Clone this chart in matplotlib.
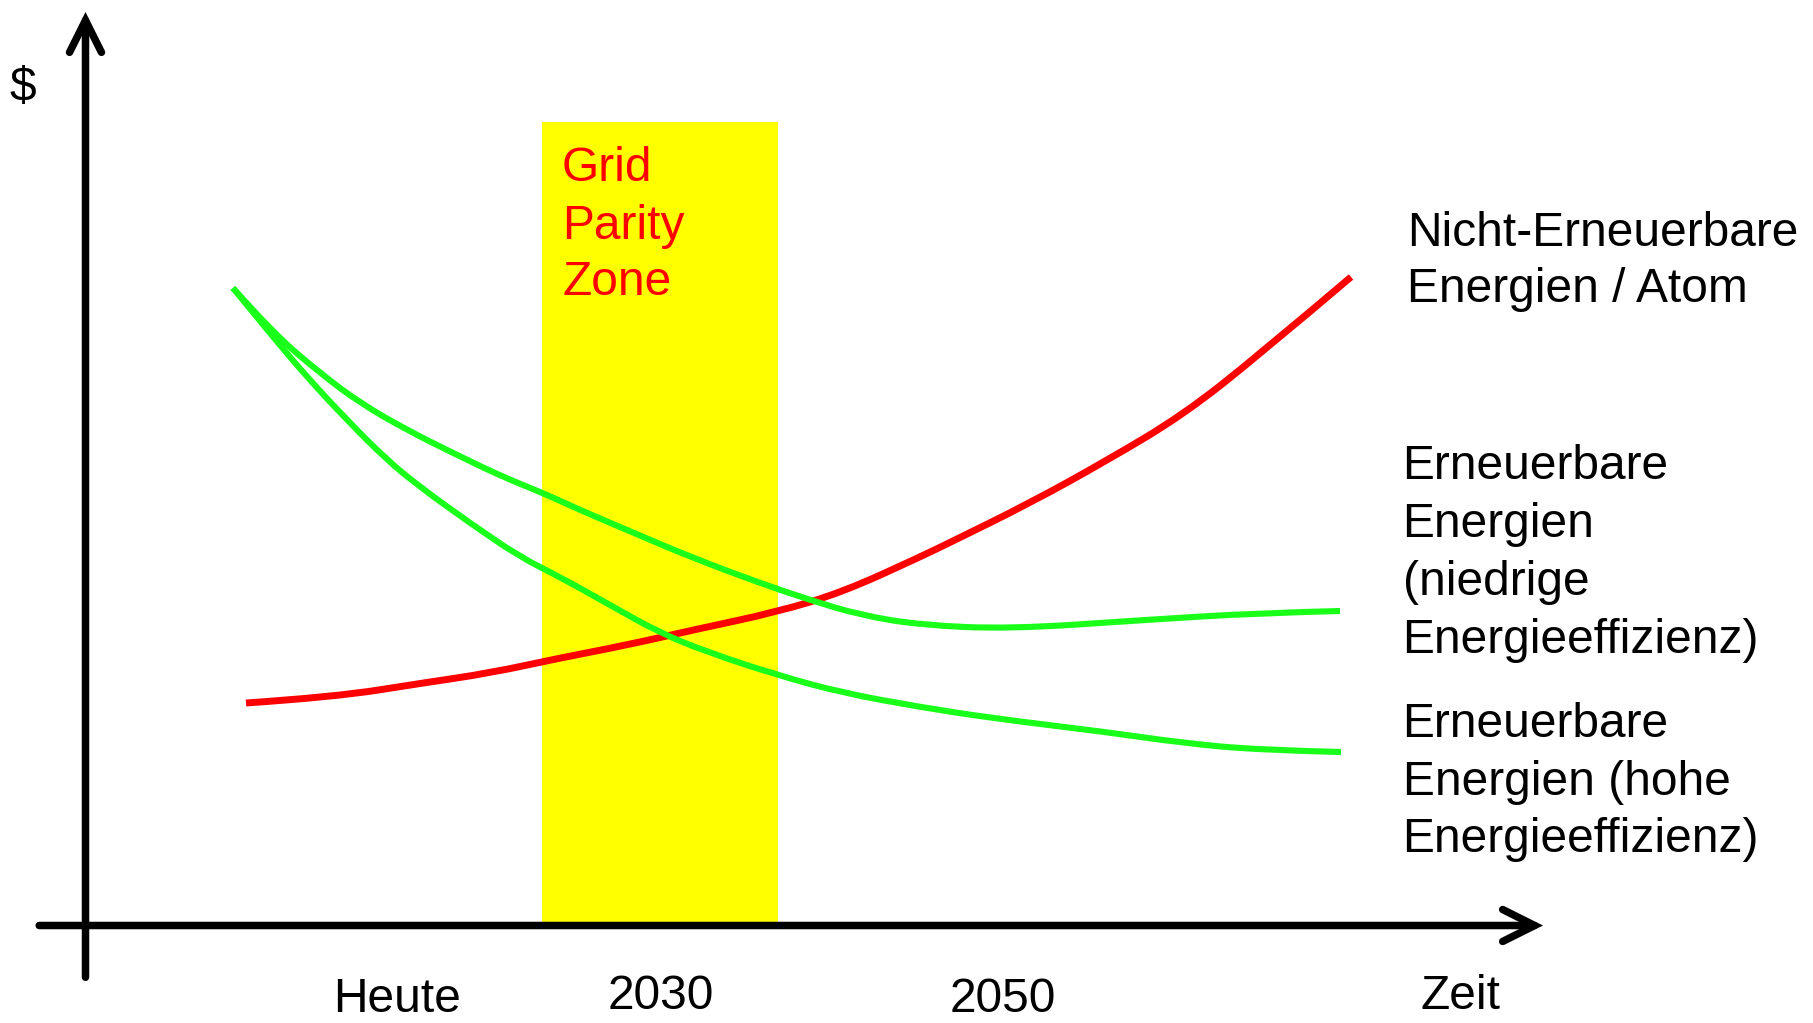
import matplotlib
matplotlib.use("Agg")
import matplotlib.pyplot as plt
from matplotlib.path import Path
from matplotlib.patches import PathPatch

plt.rcParams['font.family'] = ['Liberation Sans', 'DejaVu Sans']

# ---------------- data (abstract units: time on x, cost on y) ----------------
red_x = [1.605, 2.485, 3.375, 4.045, 4.745, 5.415, 6.075, 6.915, 7.575, 8.345,
         8.675, 9.445, 10.205, 10.975, 11.735, 12.655]
red_y = [2.225, 2.285, 2.425, 2.525, 2.675, 2.805, 2.955, 3.135, 3.335, 3.685,
         3.845, 4.225, 4.645, 5.105, 5.705, 6.485]

low_eff_x = [1.475, 1.875, 2.345, 2.745, 3.215, 3.675, 4.175, 4.575, 4.945, 5.415,
             6.075, 6.745, 7.245, 7.745, 8.345, 9.245, 10.585, 11.735, 12.545]
low_eff_y = [6.375, 5.925, 5.525, 5.225, 4.955, 4.725, 4.485, 4.325, 4.155, 3.955,
             3.675, 3.425, 3.255, 3.105, 3.005, 2.965, 3.055, 3.125, 3.145]

high_eff_x = [1.475, 1.875, 2.215, 2.615, 3.015, 3.345, 3.845, 4.345, 4.745, 5.245,
              5.745, 6.245, 6.915, 7.575, 8.345, 9.055, 10.205, 10.975, 11.735, 12.555]
high_eff_y = [6.375, 5.885, 5.485, 5.055, 4.655, 4.385, 4.025, 3.685, 3.485, 3.205,
              2.925, 2.725, 2.505, 2.325, 2.185, 2.075, 1.935, 1.825, 1.755, 1.735]

zone_start, zone_end, zone_top = 4.565, 6.925, 8.035
zone_lines = ["Grid", "Parity", "Zone"]

label_nonrenew = ["Nicht-Erneuerbare", "Energien / Atom"]
label_low = ["Erneuerbare", "Energien", "(niedrige", "Energieeffizienz)"]
label_high = ["Erneuerbare", "Energien (hohe", "Energieeffizienz)"]

x_tick_labels = ["Heute", "2030", "2050", "Zeit"]
x_tick_pos = [3.111, 5.755, 9.17, 13.745]
x_tick_base = [-0.86, -0.835, -0.87, -0.835]

# ---------------- figure ----------------
fig = plt.figure(figsize=(18.13, 10.23), dpi=100)
ax = fig.add_axes([0, 0, 1, 1])
ax.set_xlim(-0.855, 17.275)
ax.set_ylim(-0.975, 9.255)
ax.axis('off')

FS = 34.5
RED = '#FF0000'
GREEN = '#19FF19'


def smooth_curve(xs, ys, color, lw, z):
    """Draw a smooth curve guided by the read points (quadratic Bezier through midpoints)."""
    pts = list(zip(xs, ys))
    verts = [pts[0]]
    codes = [Path.MOVETO]
    for i in range(1, len(pts) - 1):
        mid = ((pts[i][0] + pts[i + 1][0]) / 2, (pts[i][1] + pts[i + 1][1]) / 2)
        if i == len(pts) - 2:
            mid = pts[-1]
        verts += [pts[i], mid]
        codes += [Path.CURVE3, Path.CURVE3]
    patch = PathPatch(Path(verts, codes), facecolor='none', edgecolor=color, lw=lw,
                      capstyle='butt', joinstyle='round', zorder=z)
    ax.add_patch(patch)


# yellow grid parity zone
ax.fill_between([zone_start, zone_end], 0, zone_top, color='#FFFF00', lw=0, zorder=1)

# curves
smooth_curve(red_x, red_y, RED, 5.0, 3)
smooth_curve(low_eff_x, low_eff_y, GREEN, 4.4, 4)
smooth_curve(high_eff_x, high_eff_y, GREEN, 4.4, 4)

# axes arrows
arrow_kw = dict(arrowstyle='->,head_length=23,head_width=11.5', lw=5.4, color='black',
                shrinkA=0, shrinkB=0, mutation_scale=1, capstyle='round',
                joinstyle='miter')
ax.annotate('', xy=(14.575, 0), xytext=(-0.463, 0), arrowprops=arrow_kw, zorder=5)
ax.annotate('', xy=(0, 9.135), xytext=(0, -0.518), arrowprops=arrow_kw, zorder=5)

# texts
ax.text(-0.625, 8.375, "$", fontsize=FS, ha='center', va='center', color='black')

zone_base = [7.445, 6.865, 6.305]
for s, yb in zip(zone_lines, zone_base):
    ax.text(4.765, yb, s, fontsize=FS, color=RED, ha='left', va='baseline', zorder=6)

for s, yb in zip(label_nonrenew, [6.798, 6.235]):
    ax.text(13.215, yb, s, fontsize=FS, color='black', ha='left', va='baseline')
for s, yb in zip(label_low, [4.465, 3.885, 3.305, 2.725]):
    ax.text(13.171, yb, s, fontsize=FS, color='black', ha='left', va='baseline')
for s, yb in zip(label_high, [1.885, 1.305, 0.735]):
    ax.text(13.171, yb, s, fontsize=FS, color='black', ha='left', va='baseline')

for s, xp, yb in zip(x_tick_labels, x_tick_pos, x_tick_base):
    ax.text(xp, yb, s, fontsize=FS, color='black', ha='center', va='baseline')

fig.savefig("out.png", dpi=100, facecolor='white')
